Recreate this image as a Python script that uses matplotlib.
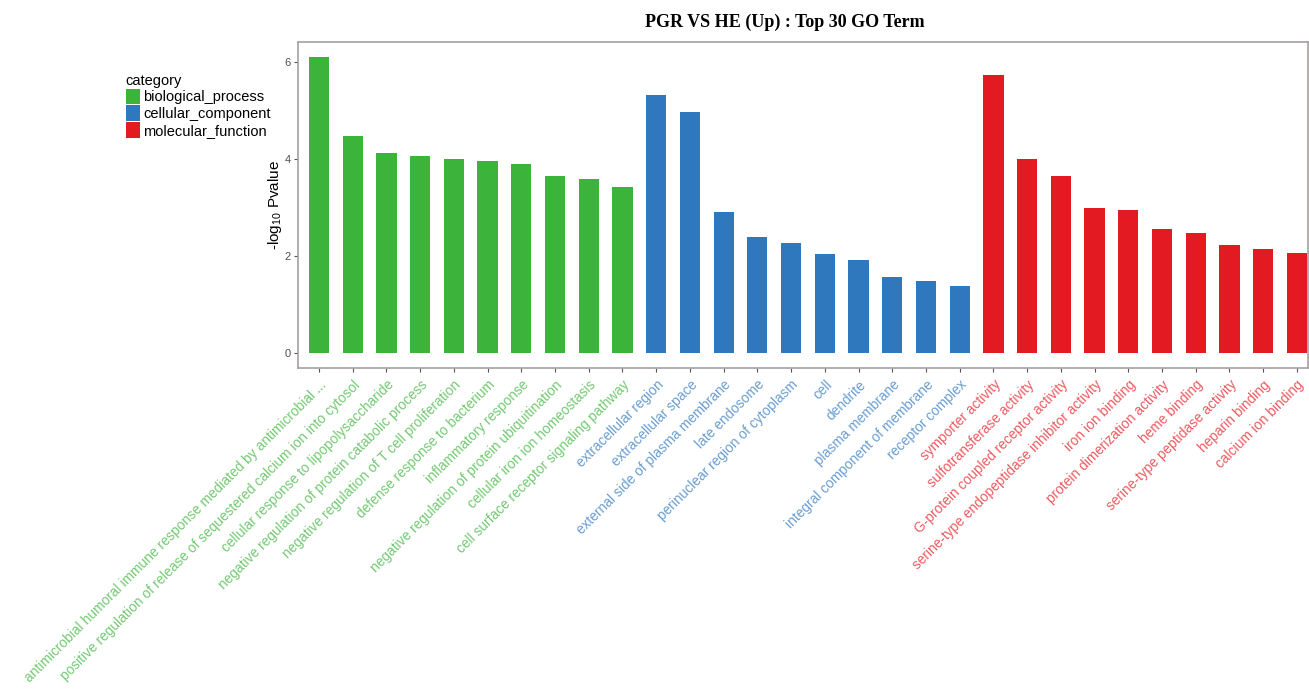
import matplotlib
matplotlib.use("Agg")
import matplotlib.pyplot as plt
from matplotlib.patches import Patch

plt.rcParams['font.family'] = ['Liberation Sans', 'DejaVu Sans']

categories = ['biological_process', 'cellular_component', 'molecular_function']
colors = {'biological_process': '#3CB43C',
          'cellular_component': '#2F78BE',
          'molecular_function': '#E41A22'}

bp_terms = [
    'antimicrobial humoral immune response mediated by antimicrobial ...',
    'positive regulation of release of sequestered calcium ion into cytosol',
    'cellular response to lipopolysaccharide',
    'negative regulation of protein catabolic process',
    'negative regulation of T cell proliferation',
    'defense response to bacterium',
    'inflammatory response',
    'negative regulation of protein ubiquitination',
    'cellular iron ion homeostasis',
    'cell surface receptor signaling pathway',
]
bp_values = [6.10, 4.47, 4.13, 4.06, 4.01, 3.96, 3.89, 3.64, 3.59, 3.42]

cc_terms = [
    'extracellular region',
    'extracellular space',
    'external side of plasma membrane',
    'late endosome',
    'perinuclear region of cytoplasm',
    'cell',
    'dendrite',
    'plasma membrane',
    'integral component of membrane',
    'receptor complex',
]
cc_values = [5.32, 4.97, 2.91, 2.39, 2.26, 2.04, 1.92, 1.56, 1.49, 1.39]

mf_terms = [
    'symporter activity',
    'sulfotransferase activity',
    'G-protein coupled receptor activity',
    'serine-type endopeptidase inhibitor activity',
    'iron ion binding',
    'protein dimerization activity',
    'heme binding',
    'serine-type peptidase activity',
    'heparin binding',
    'calcium ion binding',
]
mf_values = [5.72, 4.00, 3.65, 3.00, 2.95, 2.56, 2.47, 2.22, 2.14, 2.07]

terms = bp_terms + cc_terms + mf_terms
values = bp_values + cc_values + mf_values
groups = (['biological_process'] * len(bp_terms)
          + ['cellular_component'] * len(cc_terms)
          + ['molecular_function'] * len(mf_terms))
bar_colors = [colors[g] for g in groups]

fig = plt.figure(figsize=(13.09, 6.92), dpi=100)
ax = fig.add_axes([298 / 1309, 1 - 368 / 692, 1010 / 1309, 326 / 692])

x = list(range(1, len(terms) + 1))
ax.bar(x, values, width=0.6, color=bar_colors, linewidth=0)

ax.set_xlim(0.377, 30.33)
ax.set_ylim(-0.305, 6.41)
ax.set_yticks([0, 2, 4, 6])
ax.set_xticks(x)
ax.set_xticklabels(terms, rotation=45, ha='right', va='top',
                   rotation_mode='anchor', fontsize=9.9)
for lbl, c in zip(ax.get_xticklabels(), bar_colors):
    lbl.set_color(c)
    lbl.set_alpha(0.72)

ax.tick_params(axis='both', length=3, color='#555555', width=0.8)
ax.tick_params(axis='y', labelsize=8, labelcolor='#4D4D4D', pad=2)
ax.tick_params(axis='x', pad=4)
for s in ax.spines.values():
    s.set_color('#A8A0A0')
    s.set_linewidth(1.2)

ax.set_ylabel(r'-log$_{\mathregular{10}}$ Pvalue', fontsize=11)
ax.yaxis.set_label_coords(-0.014, 0.5)

fig.text(785 / 1309, 1 - 22 / 692, 'PGR VS HE (Up) : Top 30 GO Term',
         family='Liberation Serif', fontweight='bold', fontsize=13,
         ha='center', va='center')

handles = [Patch(facecolor=colors[c], edgecolor='none') for c in categories]
leg = fig.legend(handles, categories, title='category', loc='upper left',
                 bbox_to_anchor=(120 / 1309, 1 - 68 / 692), frameon=False,
                 fontsize=10.5, title_fontsize=10.5, handlelength=1.0,
                 handleheight=1.3, handletextpad=0.2, labelspacing=0.05,
                 borderaxespad=0, alignment='left')

fig.savefig('out.png', dpi=100)
